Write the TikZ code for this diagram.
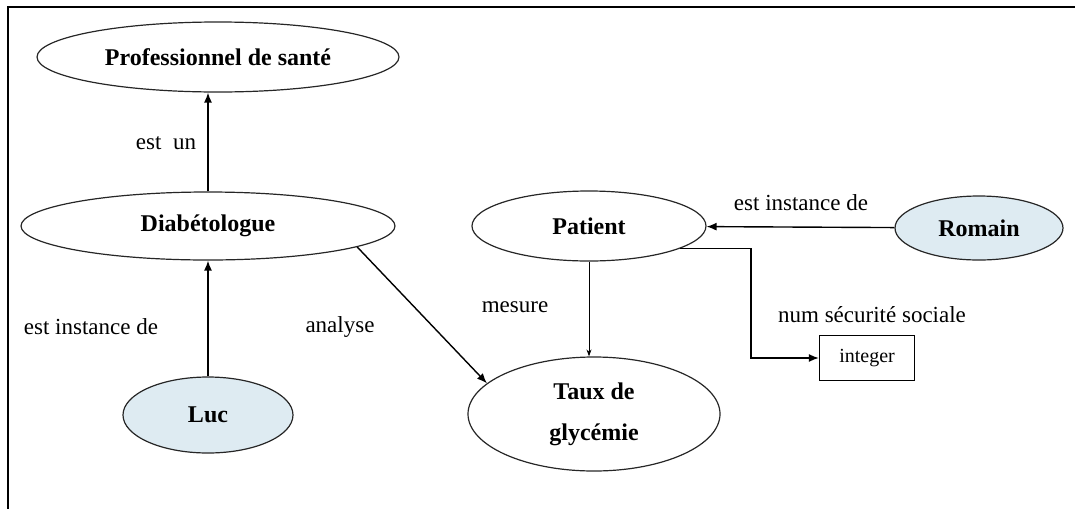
\documentclass[tikz,border=0pt]{standalone}
\usepackage{fontspec}
\setmainfont{Liberation Serif}
\usetikzlibrary{shapes.geometric,arrows.meta}
\definecolor{instblue}{RGB}{222,235,242}
\tikzset{
  concept/.style={draw=black!85, line width=1.2pt, ellipse, inner sep=0pt, font=\fontsize{24}{29}\selectfont\bfseries, align=center},
  inst/.style={concept, fill=instblue},
  lbl/.style={font=\fontsize{23}{28}\selectfont, inner sep=0pt},
  arr/.style={line width=1.4pt, -{Latex[length=10pt,width=8pt]}},
  thinarr/.style={line width=1pt, -{Stealth[length=7pt,width=5pt]}},
  typebox/.style={draw, line width=1.3pt, minimum width=95pt, minimum height=45pt, inner sep=0pt, font=\fontsize{20}{24}\selectfont}
}
\begin{document}
\begin{tikzpicture}[x=1pt,y=-1pt]
\useasboundingbox (0,0) rectangle (1075,509);
% frame
\coordinate (ftl) at (8,7);
\coordinate (ftr) at (1075,7);
\coordinate (fbl) at (8,509);
\draw[line width=2pt] (ftr) -- (ftl) -- (fbl);
% nodes
\node[concept, minimum width=362pt, minimum height=70pt] (prof) at (218,57) {Professionnel de santé};
\node[concept, minimum width=374pt, minimum height=68pt] (diab) at (208,226) {Diabétologue};
\node[inst, minimum width=170pt, minimum height=76pt] (luc) at (208,415) {Luc};
\node[concept, minimum width=234pt, minimum height=70pt] (patient) at (589,226) {Patient};
\node[concept, minimum width=252pt, minimum height=114pt] (taux) at (594,414) {Taux de\\[12pt]glycémie};
\node[inst, minimum width=168pt, minimum height=64pt] (romain) at (979,228) {Romain};
\node[typebox] (int) at (867,358) {integer};
\coordinate (bend) at (751,358);
% labels
\node[lbl] (l1) at (166,143) {est~~un};
\node[lbl] (l2) at (91,327) {est instance de};
\node[lbl] (l3) at (340,327) {analyse};
\node[lbl] (l4) at (515,307) {mesure};
\node[lbl] (l5) at (801,203) {est instance de};
\node[lbl] (l6) at (872,315) {num sécurité sociale};
% connectors
\draw[arr] (diab.north) -- (diab.north |- prof.south);
\draw[arr] (luc.north) -- (luc.north |- diab.south);
\draw[arr] (diab.-8) -- (taux.164);
\draw[thinarr] (patient.south) -- (patient.south |- taux.north);
\draw[arr] (romain) -- (patient);
\draw[arr] (patient.-14) -| (bend) -- (int.west);
\end{tikzpicture}
\end{document}
